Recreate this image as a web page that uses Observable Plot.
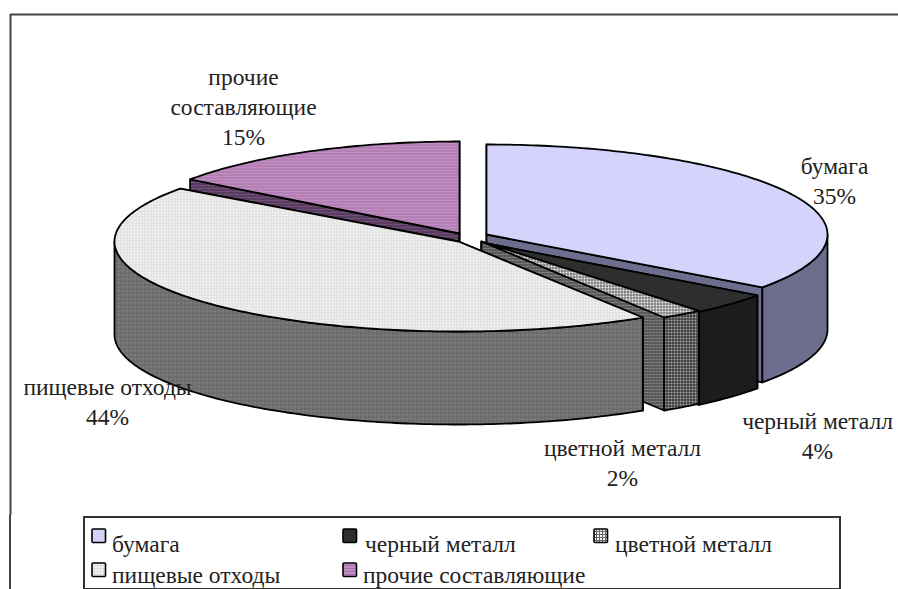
<!DOCTYPE html>
<html><head><meta charset="utf-8">
<script src="https://cdn.jsdelivr.net/npm/d3@7"></script>
<script src="https://cdn.jsdelivr.net/npm/@observablehq/plot@0.6"></script>
<style>
html,body{margin:0;padding:0;background:#fff;width:898px;height:589px;overflow:hidden}
#chart{position:absolute;left:0;top:0}
#rule{position:absolute;left:9px;top:515px;width:2px;height:74px;background:#444}
#legend{position:absolute;left:83px;top:516px;width:754px;height:70px;border:2px solid #333;font:23.5px "Liberation Serif",serif;color:#222}
.it{position:absolute;white-space:nowrap}
</style></head><body>
<div id="chart"></div><div id="rule"></div><div id="legend"></div>
<script>
const categories=["бумага","черный металл","цветной металл","пищевые отходы","прочие составляющие"];
const shares=[35,4,2,44,15];
const labelLines=["бумага\n35%","черный металл\n4%","цветной металл\n2%","пищевые отходы\n44%","прочие\nсоставляющие\n15%"];
const labelX=[834,817,622,107,243];
const labelY=[179,434,461,400,105];
const centerX=[486,481,481,458,459];
const centerY=[234,242,241,241,233];
const radiusX=[341,341,341,344,333];
const radiusY=[90,90,90,90,92];
const wallDepth=[95,93,93,93,93];
const paintOrder=[4,0,1,2,3];
const topFill=["url(#pPaperTop)","#2e2e2e","url(#pColorTop)","url(#pFoodTop)","url(#pOtherTop)"];
const wallFill=["url(#pPaperWall)","#1c1c1c","url(#pColorWall)","url(#pFoodWall)","url(#pOtherWall)"];
const cutFill=["url(#pPaperWall)","#1c1c1c","url(#pColorCut)","url(#pFoodWall)","url(#pOtherWall)"];
const W=898,H=515;
const cum=d3.cumsum(shares);
const total=d3.sum(shares);
const ang=v=>v/total*2*Math.PI;
const marks=[];
function poly(pts,fill,sw=1.8){marks.push(Plot.line(pts,{x:"x",y:"y",fill,stroke:"#000",strokeWidth:sw,curve:"linear-closed",strokeLinejoin:"round"}));}
paintOrder.forEach(i=>{
  const s=shares[i];
  const a0=ang(cum[i]-s),a1=ang(cum[i]);
  const cx=centerX[i],cy=centerY[i],rx=radiusX[i],ry=radiusY[i],d=wallDepth[i];
  const P=(a,dz=0)=>({x:cx+rx*Math.sin(a),y:cy-ry*Math.cos(a)+dz});
  const arc=[];const n=Math.max(4,Math.round((a1-a0)*60));
  for(let k=0;k<=n;k++)arc.push(a0+(a1-a0)*k/n);
  poly([{x:cx,y:cy},P(a0),P(a0,d),{x:cx,y:cy+d}],cutFill[i]);
  poly([{x:cx,y:cy},P(a1),P(a1,d),{x:cx,y:cy+d}],cutFill[i]);
  const vis=arc.filter(a=>a>=Math.PI/2&&a<=3*Math.PI/2);
  if(a0<Math.PI/2&&a1>Math.PI/2)vis.unshift(Math.PI/2);
  if(a0<3*Math.PI/2&&a1>3*Math.PI/2)vis.push(3*Math.PI/2);
  if(vis.length>1)poly([...vis.map(a=>P(a)),...vis.slice().reverse().map(a=>P(a,d))],wallFill[i]);
  poly([{x:cx,y:cy},...arc.map(a=>P(a))],topFill[i]);
});
categories.forEach((c,i)=>{
  marks.push(Plot.text([labelLines[i]],{x:()=>labelX[i],y:()=>labelY[i],text:d=>d,lineHeight:1.26,fontSize:23.5,fontFamily:"Liberation Serif",fill:"#222",textAnchor:"middle"}));
});
marks.push(Plot.line([{x:10,y:H},{x:10,y:14},{x:W,y:14}],{x:"x",y:"y",stroke:"#444",strokeWidth:2}));
const plot=Plot.plot({width:W,height:H,margin:0,x:{domain:[0,W],axis:null},y:{domain:[H,0],axis:null},style:{background:"transparent"},marks});
document.getElementById("chart").append(plot);
const pat=(id,size,bg,lines)=>`<pattern id="${id}" width="${size}" height="${size}" patternUnits="userSpaceOnUse"><rect width="${size}" height="${size}" fill="${bg}"/>${lines}</pattern>`;
const h=(s,c)=>`<rect y="0" width="${s}" height="1" fill="${c}"/>`;
const v=(s,c)=>`<rect x="0" width="1" height="${s}" fill="${c}"/>`;
const defsMarkup=
 pat("pPaperTop",2,"#d6d6fd",h(2,"#cfcff8"))+
 pat("pPaperWall",2,"#727292",h(2,"#68688a"))+
 pat("pColorTop",3,"#f6f6f6",h(3,"#666")+v(3,"#666"))+
 pat("pColorWall",3,"#b0b0b0",h(3,"#222")+v(3,"#222"))+
 pat("pColorCut",3,"#8a8a8a",h(3,"#2a2a2a")+v(3,"#5a5a5a"))+
 pat("pFoodTop",3,"#f6f6f6",h(3,"#dcdcdc")+v(3,"#dcdcdc"))+
 pat("pFoodWall",4,"#7a7a7a",h(4,"#666")+v(4,"#666"))+
 pat("pOtherTop",3,"#c48cc4",h(3,"#a273a2"))+
 pat("pOtherWall",3,"#70507a",h(3,"#3f2a44"));
d3.select(plot).insert("defs",":first-child").html(defsMarkup);
const leg=document.getElementById("legend");
const swatchX=[6,257,508,6,257];
const swatchY=[10,10,10,44,44];
const textX=[27,280,530,27,278];
const textY=[13,13,13,44,44];
categories.forEach((c,i)=>{
  const sv=d3.select(leg).append("svg").style("position","absolute").style("left",swatchX[i]+"px").style("top",swatchY[i]+"px").attr("width",16).attr("height",16);
  sv.append("rect").attr("x",1).attr("y",1).attr("width",13.5).attr("height",13.5).attr("rx",1).attr("fill",topFill[i]).attr("stroke","#000").attr("stroke-width",1.6);
  const t=document.createElement("div");t.className="it";t.style.left=textX[i]+"px";t.style.top=textY[i]+"px";t.textContent=c;leg.append(t);
});
</script></body></html>
